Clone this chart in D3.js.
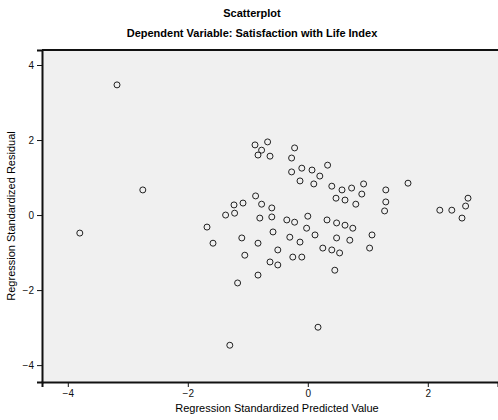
<!DOCTYPE html>
<html><head><meta charset="utf-8">
<script src="https://cdn.jsdelivr.net/npm/d3@7"></script>
<style>body{margin:0;background:#fff}</style>
</head><body>
<script>
const titleLines = ["Scatterplot", "Dependent Variable: Satisfaction with Life Index"];
const xTitle = "Regression Standardized Predicted Value";
const yTitle = "Regression Standardized Residual";
const xTicks = [-4, -2, 0, 2];
const yTicks = [4, 2, 0, -2, -4];
const xVals = [-3.18,-2.75,-3.80,-0.88,-0.77,-0.67,-0.83,-0.63,-0.22,-0.27,-0.27,-0.10,0.07,0.20,-0.13,0.10,0.33,0.40,0.57,0.73,0.90,0.62,0.80,0.47,0.93,-1.23,-1.08,-0.87,-0.77,-0.60,1.30,1.30,1.67,2.20,2.40,2.63,2.67,2.57,1.28,-1.68,-1.58,-1.10,-0.83,-1.05,-0.63,-0.50,-0.83,-1.17,-0.58,-0.30,-0.13,-0.02,0.32,0.48,0.62,0.75,0.48,0.25,0.40,0.53,1.07,1.03,0.45,0.17,-1.30,-0.80,-0.60,-0.35,-0.22,0.00,-0.25,-0.10,-0.50,-1.37,-1.22,0.70,0.12];
const yVals = [3.47,0.67,-0.48,1.87,1.73,1.95,1.60,1.57,1.79,1.52,1.15,1.25,1.20,1.04,0.91,0.83,1.33,0.77,0.67,0.72,0.56,0.40,0.29,0.45,0.83,0.27,0.32,0.51,0.29,0.19,0.67,0.35,0.85,0.13,0.13,0.24,0.45,-0.08,0.11,-0.32,-0.75,-0.61,-0.75,-1.07,-1.25,-1.33,-1.60,-1.81,-0.45,-0.59,-0.72,-0.35,-0.13,-0.21,-0.27,-0.35,-0.61,-0.88,-0.93,-1.01,-0.53,-0.88,-1.47,-2.99,-3.47,-0.08,-0.05,-0.13,-0.19,-0.03,-1.12,-1.12,-0.93,0.00,0.05,-0.67,-0.53];

const W = 498, H = 420;
const L = 42, R = 498, T = 50, B = 382;
const svg = d3.select("body").append("svg").attr("width", W).attr("height", H)
  .style("font-family", "'Liberation Sans', Arial, sans-serif");

const x = d3.scaleLinear().domain([-4.43, 3.17]).range([L, R]);
const y = d3.scaleLinear().domain([-4.45, 4.4]).range([B, T]);

svg.append("rect").attr("x", L).attr("y", T).attr("width", R - L).attr("height", B - T)
  .attr("fill", "#f0f0f0");

// title
svg.selectAll("text.title").data(titleLines).join("text").attr("class", "title")
  .attr("x", 252).attr("y", (d, i) => 17 + i * 20)
  .attr("text-anchor", "middle").attr("font-size", 11).attr("font-weight", "bold")
  .text(d => d);

// points
svg.append("g").selectAll("circle").data(xVals.map((v, i) => [v, yVals[i]])).join("circle")
  .attr("cx", d => x(d[0])).attr("cy", d => y(d[1])).attr("r", 3)
  .attr("fill", "none").attr("stroke", "#222").attr("stroke-width", 1);

// axes
const xAxis = svg.append("g").attr("transform", `translate(0,${B})`)
  .call(d3.axisBottom(x).tickValues(xTicks).tickSize(5).tickFormat(d3.format("d")));
const yAxis = svg.append("g").attr("transform", `translate(${L},0)`)
  .call(d3.axisLeft(y).tickValues(yTicks).tickSize(5).tickFormat(d3.format("d")));
[xAxis, yAxis].forEach(a => {
  a.select(".domain").attr("stroke", "#111").attr("stroke-width", 2);
  a.selectAll(".tick line").attr("stroke", "#111");
  a.selectAll(".tick text").attr("font-size", 10).attr("fill", "#111")
   .attr("font-family", "'Liberation Sans', Arial, sans-serif");
});
svg.append("line").attr("x1", L).attr("x2", R).attr("y1", T).attr("y2", T)
  .attr("stroke", "#111").attr("stroke-width", 2);

svg.append("text").attr("x", 277).attr("y", 412).attr("text-anchor", "middle")
  .attr("font-size", 11).text(xTitle);
svg.append("text").attr("transform", `translate(15,${(T + B) / 2}) rotate(-90)`)
  .attr("text-anchor", "middle").attr("font-size", 11).text(yTitle);
</script>
</body></html>
